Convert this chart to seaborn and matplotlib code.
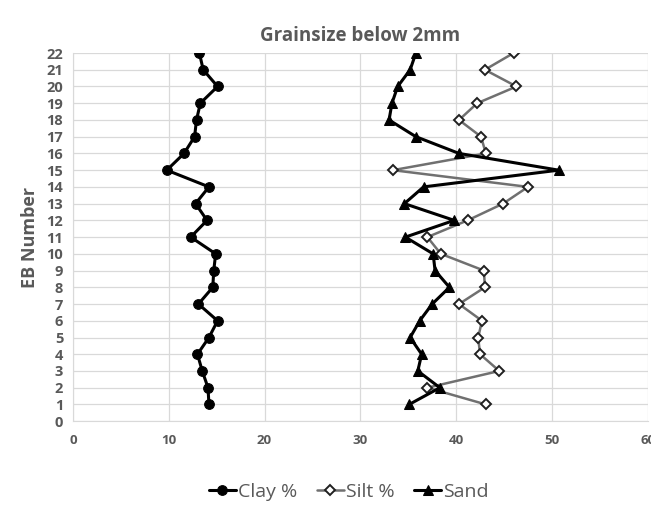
"""
Grainsize below 2mm - profilo per EB Number
"""
import matplotlib
matplotlib.use("Agg")
import matplotlib.pyplot as plt
import seaborn as sns

eb_number = list(range(1, 23))
clay = [14.2, 14.1, 13.5, 13.0, 14.2, 15.1, 13.1, 14.6, 14.7, 14.9, 12.3,
        14.0, 12.8, 14.2, 9.8, 11.6, 12.7, 12.9, 13.3, 15.1, 13.6, 13.2]
silt = [43.1, 37.0, 44.5, 42.5, 42.3, 42.7, 40.3, 43.0, 42.9, 38.4, 37.0,
        41.2, 44.9, 47.5, 33.4, 43.1, 42.6, 40.3, 42.2, 46.3, 43.0, 46.0]
sand = [35.1, 38.3, 36.0, 36.4, 35.2, 36.2, 37.5, 39.3, 37.8, 37.6, 34.7,
        39.8, 34.6, 36.6, 50.7, 40.3, 35.8, 33.0, 33.3, 33.9, 35.2, 35.8]

sns.set_style("white")
plt.rcParams["font.family"] = ["Open Sans", "DejaVu Sans"]
TXT = "#595959"
GRID = "#d9d9d9"

fig = plt.figure(figsize=(6.51, 5.05), dpi=100)
ax = fig.add_axes([0.112, 0.166, 0.883, 0.729])

sns.lineplot(x=clay, y=eb_number, sort=False, estimator=None, ax=ax,
             color="black", lw=2.2, marker="o", markersize=7,
             markeredgecolor="black", label="Clay %")
sns.lineplot(x=silt, y=eb_number, sort=False, estimator=None, ax=ax,
             color="#707070", lw=1.8, marker="D", markersize=5,
             markerfacecolor="white", markeredgecolor="#202020",
             markeredgewidth=1.4, label="Silt %")
sns.lineplot(x=sand, y=eb_number, sort=False, estimator=None, ax=ax,
             color="black", lw=2.2, marker="^", markersize=7.5,
             markeredgecolor="black", label="Sand")

ax.set_xlim(0, 60)
ax.set_ylim(0, 22)
ax.set_xticks(range(0, 61, 10))
ax.set_yticks(range(0, 23))
ax.grid(True, color=GRID, lw=0.9)
ax.set_axisbelow(True)
for s in ["top", "right"]:
    ax.spines[s].set_visible(False)
for s in ["left", "bottom"]:
    ax.spines[s].set_color(GRID)
ax.tick_params(axis="y", length=0, colors=TXT, labelsize=10.5, pad=7)
ax.tick_params(axis="x", length=0, colors=TXT, labelsize=9.5, pad=9)
for lab in ax.get_xticklabels() + ax.get_yticklabels():
    lab.set_fontweight("bold")

ax.set_title("Grainsize below 2mm", fontsize=13.5, fontweight="bold",
             color=TXT, pad=9)
ax.set_ylabel("EB Number", fontsize=13, fontweight="bold", color=TXT,
              labelpad=5)
ax.set_xlabel("")

leg = ax.legend(loc="upper center", bbox_to_anchor=(0.48, -0.12), ncol=3,
                frameon=False, fontsize=14, handlelength=1.4,
                handletextpad=0.1, columnspacing=1.0)
for t in leg.get_texts():
    t.set_color(TXT)

plt.savefig("out.png", dpi=100)
plt.close()
